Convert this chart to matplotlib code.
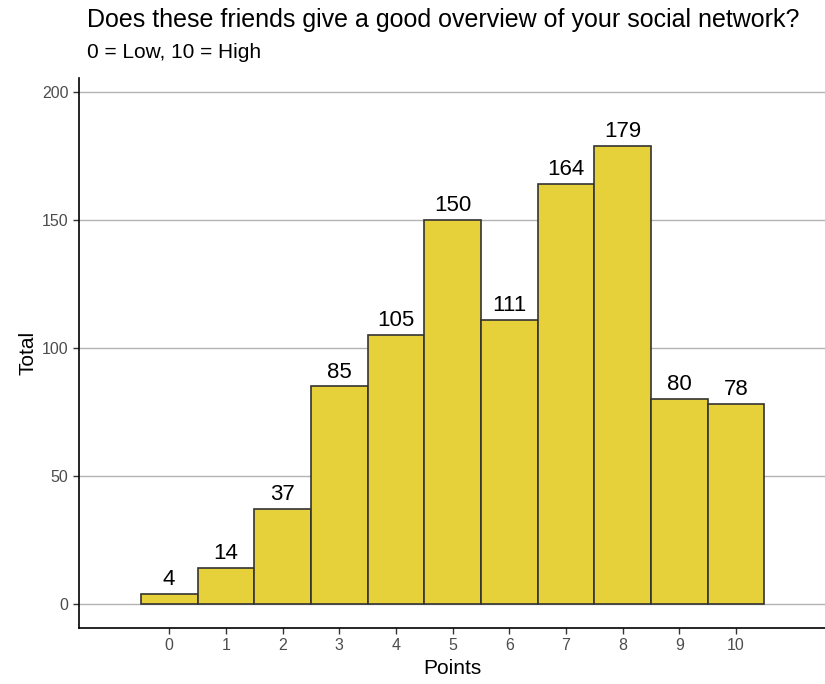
import matplotlib
matplotlib.use("Agg")
import matplotlib.pyplot as plt

# data
points = [0, 1, 2, 3, 4, 5, 6, 7, 8, 9, 10]
totals = [4, 14, 37, 85, 105, 150, 111, 164, 179, 80, 78]
yticks = [0, 50, 100, 150, 200]

plt.rcParams['font.family'] = ['Liberation Sans', 'DejaVu Sans']

fig = plt.figure(figsize=(8.25, 6.84), dpi=100)
ax = fig.add_axes([0.0958, 0.0819, 0.9042, 0.8041])

bars = ax.bar(points, totals, width=1.0, color='#E7D13B', edgecolor='#333333', linewidth=1.2, zorder=3)
for x, v in zip(points, totals):
    ax.text(x, v + 1.5, str(v), ha='center', va='bottom', fontsize=16, color='black', zorder=4)

ax.set_xlim(-1.59, 11.57)
ax.set_ylim(-9.4, 205.5)
ax.set_xticks(points)
ax.set_yticks(yticks)
ax.yaxis.grid(True, color='#B3B3B3', linewidth=1.0, zorder=0)
ax.tick_params(colors='#333333', labelcolor='#4D4D4D', labelsize=11.5, length=4, width=1)
for s in ['top', 'right']:
    ax.spines[s].set_visible(False)
for s in ['left', 'bottom']:
    ax.spines[s].set_linewidth(1.2)
    ax.spines[s].set_color('black')

ax.set_xlabel('Points', fontsize=15, labelpad=4)
ax.set_ylabel('Total', fontsize=15, labelpad=3)

fig.text(87 / 825, 1 - 20 / 684, 'Does these friends give a good overview of your social network?',
         fontsize=18, ha='left', va='center')
fig.text(87 / 825, 1 - 52 / 684, '0 = Low, 10 = High', fontsize=15, ha='left', va='center')

fig.savefig('out.png', dpi=100)
